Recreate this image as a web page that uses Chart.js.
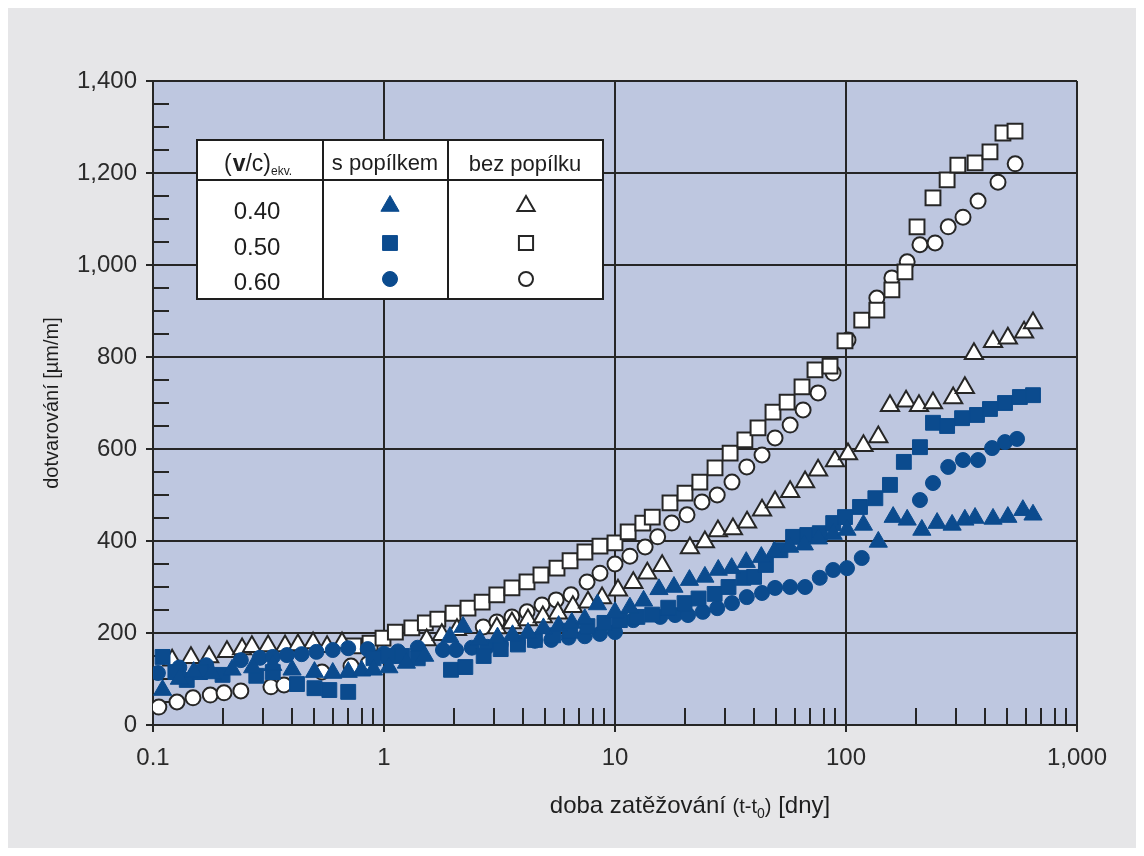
<!DOCTYPE html>
<html>
<head>
<meta charset="utf-8">
<script src="https://cdn.jsdelivr.net/npm/chart.js@4/dist/chart.umd.min.js"></script>
<style>
  html, body { margin: 0; padding: 0; background: #fff; }
  #wrap { position: absolute; left: 8px; top: 8px; width: 1128px; height: 840px; background: #e6e6e8; }
</style>
</head>
<body>
<div id="wrap"><canvas id="creep" width="1128" height="840"></canvas></div>
<script>
// time under load [days] and creep strain [µm/m], one pair of arrays per mix
const ash040Days = [0.11,0.13,0.15,0.18,0.22,0.27,0.33,0.4,0.5,0.6,0.7,0.8,0.9,1.05,1.25,1.5,1.93,2.2,2.6,3.1,3.6,4.2,4.9,5.7,6.5,7.4,8.4,10,11.6,13.3,15.5,18,21,24.5,28,32,37,43,49,57,66,76,88,101,119,138,160,184,213,248,288,327,362,433,502,583,645];
const ash040Strain = [76,100,115,112,120,125,130,120,115,113,115,118,120,125,135,150,191,213,185,190,195,200,210,215,222,230,262,245,255,270,295,300,315,322,337,341,354,365,376,387,392,405,415,424,435,398,452,446,424,439,435,446,450,448,452,467,457];

const ash050Days = [0.11,0.125,0.14,0.16,0.2,0.28,0.33,0.42,0.5,0.58,0.7,0.9,1.05,1.2,1.4,1.95,2.25,2.7,3.2,3.8,4.5,5.4,6.4,7.6,9,10.5,12.5,14.5,17,20,23,27,31,36,40,45,52,59,68,77,88,99,115,134,155,178,209,238,274,318,369,420,488,566,645];
const ash050Strain = [148,115,98,115,109,107,115,89,80,76,72,145,150,150,145,120,126,150,165,175,185,195,205,215,222,228,235,240,255,265,275,285,300,320,322,348,380,409,413,417,439,452,474,493,522,572,604,657,650,667,674,687,700,713,717];

const ash060Days = [0.105,0.13,0.17,0.24,0.29,0.33,0.38,0.44,0.51,0.6,0.7,0.85,1.0,1.15,1.4,1.8,2.05,2.4,2.8,3.2,3.8,4.5,5.3,6.3,7.4,8.6,10,12,15.7,18.2,20.7,24,27.7,32.1,37.2,43.3,49.3,57.3,66.5,77,88,101,117,209,238,277,321,373,429,488,550];
const ash060Strain = [113,125,130,141,146,148,152,154,159,163,167,165,155,160,168,163,163,168,170,175,180,183,185,190,193,198,202,228,235,239,239,246,254,265,278,287,298,300,300,320,337,341,363,489,526,561,576,576,602,615,622];

const plain040Days = [0.121,0.146,0.175,0.209,0.243,0.268,0.315,0.373,0.424,0.493,0.567,0.658,1.53,1.78,2.07,3.08,3.58,4.2,4.87,5.66,6.57,7.64,8.79,10.3,12,13.8,16,21.1,24.5,27.9,32.4,37.3,43.3,49.3,57.3,66.5,75.7,89.6,102,119,138,155,182,207,238,291,327,358,433,502,590,645];
const plain040Strain = [141,146,148,159,165,170,172,172,174,178,170,178,185,196,207,211,222,228,235,243,257,267,276,293,309,330,346,385,398,422,426,441,467,485,507,528,554,574,589,607,626,694,704,694,700,711,733,807,833,841,854,874];

const plain050Days = [0.74,0.87,0.99,1.12,1.32,1.51,1.71,1.99,2.31,2.66,3.08,3.58,4.16,4.78,5.61,6.39,7.41,8.61,10,11.4,13.2,14.5,17.3,20.1,23.3,27.1,31.5,36.5,41.6,48.3,55.6,64.5,73.4,85.3,99,117,136,158,180,203,238,274,305,362,420,478,539];
const plain050Strain = [172,178,189,202,211,222,230,243,254,267,283,298,311,326,341,357,376,389,396,420,439,452,483,504,528,559,591,620,646,680,702,735,772,780,835,880,902,946,985,1083,1146,1185,1217,1222,1246,1287,1291];

const plain060Days = [0.106,0.127,0.149,0.177,0.203,0.24,0.324,0.369,0.539,0.72,0.853,2.69,3.08,3.58,4.16,4.83,5.56,6.45,7.57,8.61,10,11.6,13.5,15.3,17.6,20.5,23.8,27.7,32.1,37.2,43.3,49.3,57.3,65.2,75.7,87.9,102,136,158,184,209,243,277,321,373,455,540];
const plain060Strain = [39,50,59,65,70,74,83,87,115,128,133,213,224,235,246,261,272,283,311,330,350,367,387,409,439,457,485,500,528,561,587,624,652,685,722,765,837,928,972,1007,1044,1048,1083,1104,1139,1180,1220];

const xTickValues = [0.1, 1, 10, 100, 1000];
const xTickLabels = ['0.1', '1', '10', '100', '1,000'];
const ratioLabels = ['0.40', '0.50', '0.60'];

const BLUE = '#0b4b8e';
const INK = '#262626';
const FONT = '"Liberation Sans", Arial, sans-serif';

function pts(xs, ys) { return xs.map((x, i) => ({ x: x, y: ys[i] })); }

function filled(data, style) {
  return { data: data, pointStyle: style, backgroundColor: BLUE, borderColor: BLUE, borderWidth: 1,
    pointRadius: style === 'circle' ? 7.5 : 10.5 };
}
function open(data, style) {
  return { data: data, pointStyle: style, backgroundColor: '#fff', borderColor: INK, borderWidth: 2,
    pointRadius: style === 'circle' ? 7.5 : 10.5 };
}

// plot area background + minor ticks
const plotDecor = {
  id: 'plotDecor',
  beforeDraw(chart) {
    const a = chart.chartArea, c = chart.ctx;
    c.save();
    c.fillStyle = '#bec7e0';
    c.fillRect(a.left, a.top, a.right - a.left, a.bottom - a.top);
    c.restore();
  },
  beforeDatasetsDraw(chart) {
    const a = chart.chartArea, c = chart.ctx;
    const xs = chart.scales.x, ys = chart.scales.y;
    c.save();
    c.strokeStyle = INK;
    c.lineWidth = 2;
    c.beginPath();
    for (let v = 50; v < 1400; v += 50) {
      if (v % 200 === 0) continue;
      const y = Math.round(ys.getPixelForValue(v));
      c.moveTo(a.left, y); c.lineTo(a.left + 16, y);
    }
    for (let d = 0.1; d < 1000; d *= 10) {
      for (let k = 2; k <= 9; k++) {
        const x = Math.round(xs.getPixelForValue(d * k));
        c.moveTo(x, a.bottom); c.lineTo(x, a.bottom - 17);
      }
    }
    c.stroke();
    c.restore();
  }
};

// axis titles and the legend table
const annotate = {
  id: 'annotate',
  afterDraw(chart) {
    const c = chart.ctx;
    c.save();
    c.fillStyle = '#1e1e1e';
    c.textBaseline = 'alphabetic';

    // y title
    c.save();
    c.translate(43, 395);
    c.rotate(-Math.PI / 2);
    c.font = '20px ' + FONT;
    c.textAlign = 'center';
    c.fillText('dotvarování [µm/m]', 0, 7);
    c.restore();

    // x title with subscript
    const parts = [
      { t: 'doba zatěžování ', f: '24px ' + FONT, dy: 0 },
      { t: '(t-t', f: '20px ' + FONT, dy: 0 },
      { t: '0', f: '14px ' + FONT, dy: 5 },
      { t: ')', f: '20px ' + FONT, dy: 0 },
      { t: ' [dny]', f: '24px ' + FONT, dy: 0 }
    ];
    let w = 0;
    parts.forEach(p => { c.font = p.f; p.w = c.measureText(p.t).width; w += p.w; });
    let x = 682 - w / 2;
    c.textAlign = 'left';
    parts.forEach(p => { c.font = p.f; c.fillText(p.t, x, 805 + p.dy); x += p.w; });

    // legend table
    const L = 189, R = 595, T = 132, B = 291, H = 172, C1 = 315, C2 = 440;
    c.fillStyle = '#fff';
    c.fillRect(L, T, R - L, B - T);
    c.strokeStyle = '#1e1e1e';
    c.lineWidth = 2;
    c.strokeRect(L, T, R - L, B - T);
    c.beginPath();
    c.moveTo(L, H); c.lineTo(R, H);
    c.moveTo(C1, T); c.lineTo(C1, B);
    c.moveTo(C2, T); c.lineTo(C2, B);
    c.stroke();

    c.fillStyle = '#1e1e1e';
    c.textAlign = 'left';
    let hx = 216;
    c.font = '23px ' + FONT; c.fillText('(', hx, 163); hx += c.measureText('(').width + 1;
    c.font = 'bold 23px ' + FONT; c.fillText('v', hx, 163); hx += c.measureText('v').width;
    c.font = '23px ' + FONT; c.fillText('/c)', hx, 163); hx += c.measureText('/c)').width;
    c.font = '12px ' + FONT; c.fillText('ekv.', hx, 167);
    c.textAlign = 'center';
    c.font = '22px ' + FONT;
    c.fillText('s popílkem', 377, 162);
    c.fillText('bez popílku', 517, 163);
    c.font = '24px ' + FONT;
    const rowY = [202, 238, 273];
    ratioLabels.forEach((t, i) => c.fillText(t, 249, rowY[i] + 9));

    const styles = ['triangle', 'rect', 'circle'];
    const mY = [198, 235, 271];
    styles.forEach((s, i) => {
      const r = s === 'circle' ? 7.5 : 10.5;
      c.fillStyle = BLUE; c.strokeStyle = BLUE; c.lineWidth = 1;
      Chart.helpers.drawPoint(c, { pointStyle: s, radius: r, rotation: 0, borderWidth: 1 }, 382, mY[i]);
      c.fillStyle = '#fff'; c.strokeStyle = INK; c.lineWidth = 2;
      Chart.helpers.drawPoint(c, { pointStyle: s, radius: s === 'circle' ? 7 : 10, rotation: 0, borderWidth: 2 }, 518, mY[i]);
    });
    c.restore();
  }
};

new Chart(document.getElementById('creep'), {
  type: 'scatter',
  data: {
    datasets: [
      filled(pts(ash040Days, ash040Strain), 'triangle'),
      filled(pts(ash050Days, ash050Strain), 'rect'),
      filled(pts(ash060Days, ash060Strain), 'circle'),
      open(pts(plain040Days, plain040Strain), 'triangle'),
      open(pts(plain050Days, plain050Strain), 'rect'),
      open(pts(plain060Days, plain060Strain), 'circle')
    ]
  },
  options: {
    responsive: false,
    animation: false,
    layout: { padding: { left: 0, top: 73, right: 59, bottom: 0 } },
    plugins: { legend: { display: false }, tooltip: { enabled: false } },
    scales: {
      x: {
        type: 'logarithmic',
        min: 0.1,
        max: 1000,
        afterBuildTicks(scale) { scale.ticks = xTickValues.map(v => ({ value: v })); },
        afterFit(scale) { scale.height = 123; },
        grid: { color: INK, lineWidth: 2, tickLength: 7, tickColor: INK },
        border: { color: INK, width: 2 },
        ticks: {
          color: '#2a2a2a', padding: 12,
          font: { family: FONT, size: 24 },
          autoSkip: false, maxRotation: 0,
          callback: (v, i) => xTickLabels[i]
        }
      },
      y: {
        min: 0,
        max: 1400,
        afterFit(scale) { scale.width = 145; },
        grid: { color: INK, lineWidth: 2, tickLength: 7, tickColor: INK },
        border: { color: INK, width: 2 },
        ticks: {
          stepSize: 200, color: '#2a2a2a', padding: 9,
          font: { family: FONT, size: 24 },
          callback: v => v.toLocaleString('en-US')
        }
      }
    }
  },
  plugins: [plotDecor, annotate]
});
</script>
</body>
</html>
